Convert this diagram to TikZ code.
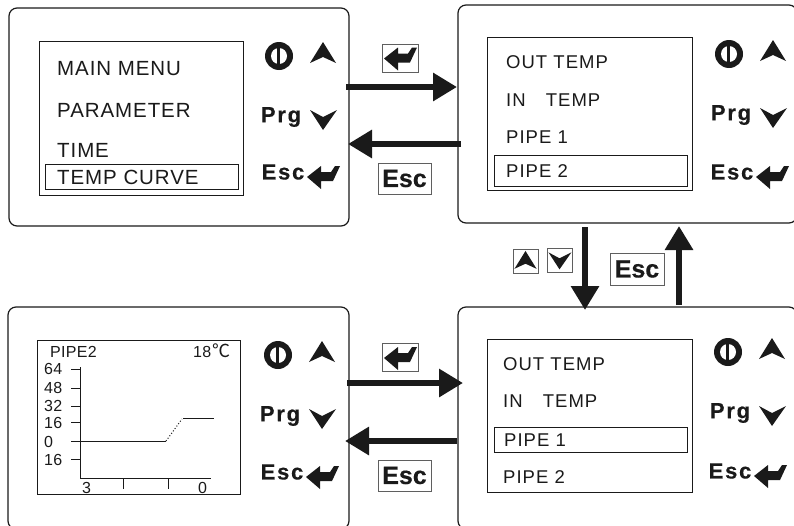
\documentclass[tikz,border=0pt]{standalone}
\usepackage{fontspec}
\setmainfont{Liberation Sans}
\newfontfamily\btnfont[LetterSpace=8,FakeBold=0.4]{Liberation Sans Bold}
\newfontfamily\keyfont[FakeBold=0.3]{Liberation Sans Bold}
\newfontfamily\lcdfont[LetterSpace=4.5]{Liberation Sans}
\newfontfamily\subfont[LetterSpace=5.5]{Liberation Sans}
\newfontfamily\chartfont[LetterSpace=2]{Liberation Sans}
\newfontfamily\cjkfont{Noto Sans CJK SC}
\usetikzlibrary{arrows.meta}
\definecolor{ink}{HTML}{1A1A1A}
\tikzset{
  panel/.style={draw=ink,line width=1.2pt,rounded corners=8pt,fill=white,inner sep=0pt},
  screen/.style={draw=ink,line width=0.8pt,fill=white,inner sep=0pt},
  rowbox/.style={draw=ink,line width=0.9pt,inner sep=0pt},
  menu/.style={anchor=west,inner sep=0pt,font=\fontsize{20.5}{24}\lcdfont,text=ink},
  submenu/.style={anchor=west,inner sep=0pt,font=\fontsize{18.5}{22}\subfont,text=ink},
  chartlab/.style={anchor=west,inner sep=0pt,font=\fontsize{16}{18}\chartfont,text=ink},
  btn/.style={inner sep=0pt,font=\fontsize{22}{24}\btnfont,text=ink},
  keybox/.style={draw=ink!70,line width=1pt,fill=white,inner sep=0pt},
  esckey/.style={keybox,font=\fontsize{25}{27}\keyfont,text=ink},
  bigarrow/.style={-{Triangle[length=24pt,width=27pt]},line width=6.5pt,draw=ink},
  axis/.style={draw=ink,line width=1pt},
  glyph/.style={fill=ink,draw=none},
  upglyph/.pic={\path[glyph] (0,-13) -- (13,8) -- (0,2) -- (-13,8) -- cycle;},
  downglyph/.pic={\path[glyph] (0,11) -- (14,-9) -- (0,-2) -- (-13,-9) -- cycle;},
  retglyph/.pic={\path[glyph] (-16,0) -- (-2,-11) -- (-2,-5) -- (8,-5) -- (12,-11) -- (17,-11) -- (10,4) -- (-2,4) -- (-2,12) -- cycle;},
  powerglyph/.pic={
    \fill[ink] (0,0) circle (14);
    \fill[white] (0,0) circle (8);
    \fill[ink] (-2.5,-9) rectangle (0.5,9);
  },
  icons/.pic={
    \pic at (0,0) {powerglyph};
    \pic at (44,-1) {upglyph};
    \node[btn] (-prg) at (2,61) {Prg};
    \pic at (44,63) {downglyph};
  },
  escrow/.pic={
    \node[btn] (-esc) at (0,0) {Esc};
    \pic at (40,5) {retglyph};
  }
}
\begin{document}
\begin{tikzpicture}[x=1pt,y=-1pt]
\useasboundingbox (0,0) rectangle (794,525);
% panels
\node[panel,minimum width=340pt,minimum height=218pt] (p1) at (179,117) {};
\node[panel,minimum width=339pt,minimum height=218pt] (p2) at (627.5,114) {};
\node[panel,minimum width=341pt,minimum height=222pt] (p3) at (178.5,418) {};
\node[panel,minimum width=339pt,minimum height=222pt] (p4) at (627.5,418) {};
% screens
\node[screen,minimum width=204pt,minimum height=154pt] (s1) at (141,118) {};
\node[screen,minimum width=205pt,minimum height=153pt] (s2) at (589.5,113.5) {};
\node[screen,minimum width=203pt,minimum height=154pt] (s3) at (138.5,417) {};
\node[screen,minimum width=205pt,minimum height=153pt] (s4) at (589.5,415.5) {};
% highlight rows
\node[rowbox,minimum width=193pt,minimum height=25pt] (h1) at (141.5,176.5) {};
\node[rowbox,minimum width=193pt,minimum height=31pt] (h2) at (590.5,170.5) {};
\node[rowbox,minimum width=193pt,minimum height=25pt] (h4) at (590.5,439.5) {};
% menu texts
\node[menu] (m1a) at (57,69) {MAIN MENU};
\node[menu] (m1b) at (57,110) {PARAMETER};
\node[menu] (m1c) at (57,150) {TIME};
\node[menu] (m1d) at (57,177) {TEMP CURVE};
\node[submenu] (m2a) at (506,62) {OUT TEMP};
\node[submenu] (m2b) at (506,100) {IN\hspace{14pt} TEMP};
\node[submenu] (m2c) at (506,137) {PIPE 1};
\node[submenu] (m2d) at (506,171) {PIPE 2};
\node[submenu] (m4a) at (503,364) {OUT TEMP};
\node[submenu] (m4b) at (503,401) {IN\hspace{14pt} TEMP};
\node[submenu] (m4c) at (504,440) {PIPE 1};
\node[submenu] (m4d) at (503,477) {PIPE 2};
% button columns
\pic (i1) at (279,56) {icons};
\pic (i2) at (729,54) {icons};
\pic (i3) at (278,355) {icons};
\pic (i4) at (728,352) {icons};
\pic (e1) at (283,172) {escrow};
\pic (e2) at (732,172) {escrow};
\pic (e3) at (282,472) {escrow};
\pic (e4) at (730,471) {escrow};
% chart
\node[chartlab] (ct) at (50,352) {PIPE2};
\node[chartlab] (cv) at (193,352) {18};
\node[anchor=west,inner sep=0pt,font=\fontsize{18}{20}\cjkfont,text=ink] (cu) at (212,351) {℃};
\node[chartlab] (y1) at (44,369) {64};
\node[chartlab] (y2) at (44,388) {48};
\node[chartlab] (y3) at (44,406) {32};
\node[chartlab] (y4) at (44,423) {16};
\node[chartlab] (y5) at (44,442) {0};
\node[chartlab] (y6) at (44,460) {16};
\node[chartlab] (x1) at (82,488) {3};
\node[chartlab] (x2) at (198,488) {0};
\draw[axis] (80,367) -- (80,478) -- (211,478);
\foreach \yy in {369,388,406,422,441,459} \draw[axis] (71,\yy) -- (80,\yy);
\foreach \xx in {123,168} \draw[axis] (\xx,478) -- (\xx,489);
\draw[axis] (80,441) -- (166,441);
\draw[axis,dotted] (166,441) -- (182,419);
\draw[axis] (183,418) -- (214,418);
% key boxes
\node[keybox,minimum width=36pt,minimum height=28pt] (k1) at (400,58) {};
\pic at (400,58.5) {retglyph};
\node[esckey,minimum width=53pt,minimum height=31pt] (k2) at (404.5,178.5) {Esc};
\node[keybox,minimum width=25pt,minimum height=24pt] (k3) at (525.5,261) {};
\pic[scale=0.85] at (525.5,262) {upglyph};
\node[keybox,minimum width=25pt,minimum height=24pt] (k4) at (559.5,260.5) {};
\pic[scale=0.85] at (559.5,260) {downglyph};
\node[esckey,minimum width=54pt,minimum height=32pt] (k5) at (637,269) {Esc};
\node[keybox,minimum width=36pt,minimum height=28pt] (k6) at (400,357.5) {};
\pic at (400,358) {retglyph};
\node[esckey,minimum width=53pt,minimum height=31pt] (k7) at (404.5,475.5) {Esc};
% connector ends
\coordinate (a1s) at (346,87);   \coordinate (a1e) at (457,87);
\coordinate (a2s) at (461,144);  \coordinate (a2e) at (348,144);
\coordinate (a3s) at (585,227);  \coordinate (a3e) at (585,310);
\coordinate (a4s) at (679,305);  \coordinate (a4e) at (679,226);
\coordinate (a5s) at (347,383);  \coordinate (a5e) at (463,383);
\coordinate (a6s) at (457,441);  \coordinate (a6e) at (345,441);
\draw[bigarrow] (a1s) -- (a1e);
\draw[bigarrow] (a2s) -- (a2e);
\draw[bigarrow] (a3s) -- (a3e);
\draw[bigarrow] (a4s) -- (a4e);
\draw[bigarrow] (a5s) -- (a5e);
\draw[bigarrow] (a6s) -- (a6e);
\end{tikzpicture}
\end{document}
